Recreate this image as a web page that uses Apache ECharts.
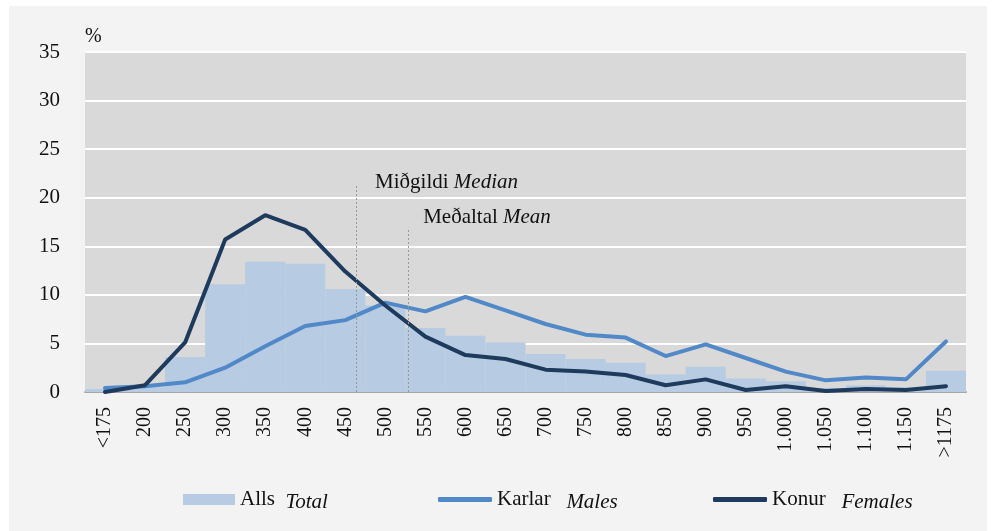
<!DOCTYPE html>
<html>
<head>
<meta charset="utf-8">
<script src="https://cdn.jsdelivr.net/npm/echarts@6/dist/echarts.min.js"></script>
<style>
html,body{margin:0;padding:0;background:#ffffff;}
#bg{position:absolute;left:9px;top:6px;width:978px;height:525px;background:#f2f3f2;}
#chart{position:absolute;left:0;top:0;width:1000px;height:531px;}
</style>
</head>
<body>
<div id="bg"></div>
<div id="chart"></div>
<script>
const categories = ['<175','200','250','300','350','400','450','500','550','600','650','700','750','800','850','900','950','1.000','1.050','1.100','1.150','>1175'];
const totalValues = [0.3,0.5,3.6,11.1,13.4,13.2,10.6,8.9,6.6,5.8,5.1,3.9,3.4,3.0,1.8,2.6,1.4,1.1,0.4,0.7,0.5,2.2];
const malesValues = [0.4,0.6,1.0,2.5,4.7,6.8,7.4,9.2,8.3,9.8,8.4,7.0,5.9,5.6,3.7,4.9,3.5,2.1,1.2,1.5,1.3,5.2];
const femalesValues = [0.0,0.7,5.1,15.7,18.2,16.7,12.4,8.9,5.7,3.8,3.4,2.3,2.1,1.75,0.7,1.3,0.2,0.6,0.1,0.3,0.2,0.6];
const yTicks = [0,5,10,15,20,25,30,35];
// Median / mean markers (position in category units, height in %)
const medianPos = 6.27, medianTop = 21.3;
const meanPos = 7.57, meanTop = 16.9;

const FONT = '"Liberation Serif", "Times New Roman", serif';
const chart = echarts.init(document.getElementById('chart'));
const legendText = {
  fontFamily: FONT, fontSize: 21, color: '#111',
  rich: {
    n: {fontFamily: FONT, fontSize: 21, color: '#111'},
    i: {fontFamily: FONT, fontSize: 21, fontStyle: 'italic', color: '#111', padding:[6,0,0,0]}
  }
};
chart.setOption({
  backgroundColor: 'transparent',
  animation: false,
  textStyle: {fontFamily: FONT},
  title: {text: '%', left: 85, top: 27, padding: 0,
    textStyle: {fontFamily: FONT, fontSize: 20, fontWeight: 'normal', color: '#111'}},
  grid: {left: 85, right: 34, top: 52, bottom: 139, show: true, backgroundColor: '#d9d9d9', borderWidth: 0},
  legend: [
    {data: [{name: 'Alls', icon: 'rect'}], left: 183, top: 489, padding: 0, itemWidth: 52, itemHeight: 11, textStyle: legendText,
     formatter: () => '{n|Alls}  {i|Total}'},
    {data: [{name: 'Karlar', icon: 'roundRect'}], left: 438, top: 489, padding: 0, itemWidth: 54, itemHeight: 5, textStyle: legendText,
     formatter: () => '{n|Karlar}   {i|Males}'},
    {data: [{name: 'Konur', icon: 'roundRect'}], left: 713, top: 489, padding: 0, itemWidth: 54, itemHeight: 5, textStyle: legendText,
     formatter: () => '{n|Konur}   {i|Females}'}
  ],
  xAxis: [
    {type: 'category', data: categories, boundaryGap: true,
     axisLine: {show: true, lineStyle: {color: '#a6a6a6', width: 2}},
     axisTick: {show: false},
     axisLabel: {rotate: 90, margin: 15, fontFamily: FONT, fontSize: 20, color: '#111', interval: 0},
     splitLine: {show: false}},
    {type: 'value', min: -0.5, max: 21.5, show: false}
  ],
  yAxis: {type: 'value', min: 0, max: 35, interval: 5,
    axisLine: {show: false}, axisTick: {show: false},
    axisLabel: {margin: 25, fontFamily: FONT, fontSize: 21, color: '#111',
      formatter: v => yTicks.includes(v) ? String(v) : ''},
    splitLine: {show: true, lineStyle: {color: '#ffffff', width: 2}}
  },
  series: [
    {name: 'Alls', type: 'bar', data: totalValues, barCategoryGap: '0%',
     itemStyle: {color: '#b7cbe3'}, z: 1},
    {name: 'Karlar', type: 'line', data: malesValues, symbol: 'none',
     lineStyle: {color: '#5088c8', width: 4, cap: 'round'}, itemStyle: {color: '#5088c8'}, z: 3},
    {name: 'Konur', type: 'line', data: femalesValues, symbol: 'none',
     lineStyle: {color: '#1e3a5c', width: 4, cap: 'round'}, itemStyle: {color: '#1e3a5c'}, z: 4},
    {name: 'markers', type: 'line', xAxisIndex: 1, data: [], z: 2,
     markLine: {silent: true, symbol: 'none', animation: false,
       lineStyle: {color: '#9a9a9a', type: [2, 2], width: 1},
       label: {show: false},
       data: [
         [{coord: [medianPos, 0]}, {coord: [medianPos, medianTop]}],
         [{coord: [meanPos, 0]}, {coord: [meanPos, meanTop]}]
       ]},
     markPoint: {silent: true, symbol: 'circle', symbolSize: 0, animation: false,
       label: {show: true, position: 'right', distance: 0, color: '#111',
         rich: {
           n: {fontFamily: FONT, fontSize: 21, color: '#111'},
           i: {fontFamily: FONT, fontSize: 21, fontStyle: 'italic', color: '#111'}
         }},
       data: [
         {coord: [medianPos, medianTop], label: {formatter: '{n|Miðgildi }{i|Median}', offset: [19, -3]}},
         {coord: [meanPos, meanTop], label: {formatter: '{n|Meðaltal }{i|Mean}', offset: [15, -10]}}
       ]}
    }
  ]
});
</script>
</body>
</html>
